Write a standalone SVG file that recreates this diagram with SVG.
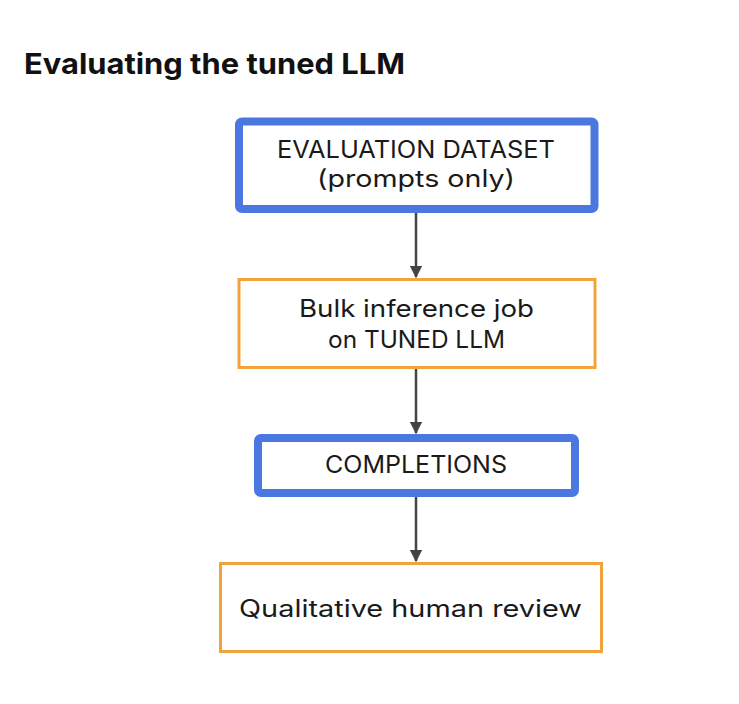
<svg xmlns="http://www.w3.org/2000/svg" width="739" height="704" viewBox="0 0 739 704">
<style>
.title{font-family:Inter,"Noto Sans","Liberation Sans",sans-serif;font-weight:700;font-size:29px;fill:#111}
.lbl{font-family:Inter,"Noto Sans","Liberation Sans",sans-serif;font-weight:400;font-size:24px;fill:#1a1a1a;text-anchor:middle}
.blue{fill:#fff;stroke:#4a78e0;stroke-width:8}
.orange{fill:#fff;stroke:#f2a43a;stroke-width:3}
.conn{stroke:#444;stroke-width:2.5;fill:none}
</style>
<defs>
<marker id="ah" viewBox="0 0 10 10" refX="9" refY="5" markerWidth="5" markerHeight="5" orient="auto" markerUnits="strokeWidth">
<path d="M0,0 L10,5 L0,10 z" fill="#444"/>
</marker>
</defs>
<rect width="739" height="704" fill="#fff"/>
<text class="title" x="24" y="74" textLength="381" lengthAdjust="spacingAndGlyphs">Evaluating the tuned LLM</text>
<g id="connectors">
<line class="conn" x1="416" y1="213" x2="416" y2="277" marker-end="url(#ah)"/>
<line class="conn" x1="416" y1="369" x2="416" y2="433" marker-end="url(#ah)"/>
<line class="conn" x1="416" y1="497" x2="416" y2="561" marker-end="url(#ah)"/>
</g>
<g id="n1">
<rect class="blue" x="239" y="121.5" width="355.5" height="87.5" rx="3"/>
<text class="lbl" x="416" y="158" textLength="278" lengthAdjust="spacingAndGlyphs">EVALUATION DATASET</text>
<text class="lbl" x="416" y="187" textLength="198" lengthAdjust="spacingAndGlyphs">(prompts only)</text>
</g>
<g id="n2">
<rect class="orange" x="239" y="279.5" width="356" height="88"/>
<text class="lbl" x="416.5" y="317" textLength="235" lengthAdjust="spacingAndGlyphs">Bulk inference job</text>
<text class="lbl" x="416.5" y="348" textLength="177" lengthAdjust="spacingAndGlyphs">on TUNED LLM</text>
</g>
<g id="n3">
<rect class="blue" x="258" y="438" width="317" height="55" rx="3"/>
<text class="lbl" x="416" y="473" textLength="182" lengthAdjust="spacingAndGlyphs">COMPLETIONS</text>
</g>
<g id="n4">
<rect class="orange" x="220.5" y="563.5" width="381" height="88"/>
<text class="lbl" x="410.5" y="617" textLength="343" lengthAdjust="spacingAndGlyphs">Qualitative human review</text>
</g>
</svg>
